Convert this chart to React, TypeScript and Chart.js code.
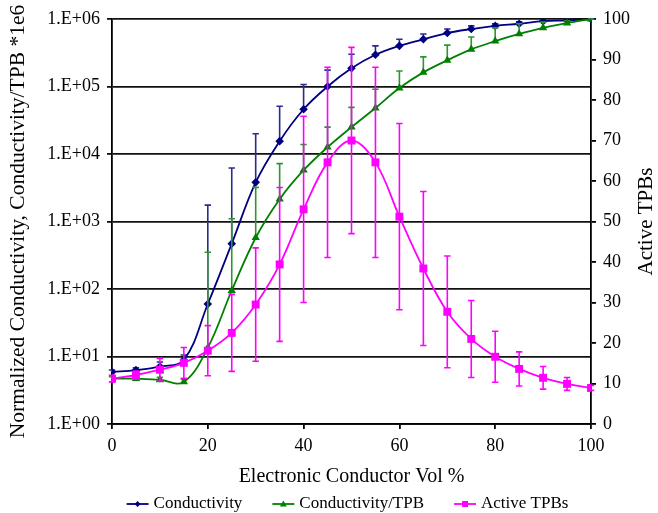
import React, { useEffect, useRef } from "react";
import { Chart, registerables } from "chart.js";

Chart.register(...registerables);

// ---------- data ----------
const volPercent = [0, 5, 10, 15, 20, 25, 30, 35, 40, 45, 50, 55, 60, 65, 70, 75, 80, 85, 90, 95, 100];

const conductivity = [5.9, 6.3, 7.1, 8.9, 60, 470, 3800, 15500, 46000, 100000, 186000, 295000, 400000, 500000, 620000, 710000, 790000, 850000, 930000, 955000, 1000000];
const conductivityUpper = [6.3, 6.8, 8.3, 10.5, 1750, 6200, 20000, 51000, 107000, 175000, 300000, 400000, 500000, 600000, 710000, 790000, 850000, 910000, 960000, 980000, 1000000];

const conductivityPerTPB = [4.7, 4.7, 4.5, 4.2, 13.5, 95, 575, 2140, 5750, 12600, 25000, 48000, 95000, 162000, 245000, 355000, 470000, 600000, 740000, 870000, 1000000];
const conductivityPerTPBUpper = [5.0, 5.0, 4.9, 4.6, 350, 1100, 3200, 7200, 13800, 25000, 49000, 91000, 170000, 275000, 410000, 540000, 740000, 850000, 900000, 940000, 1000000];

const activeTPBs = [11.2, 12.1, 13.4, 15.1, 18.1, 22.5, 29.5, 39.4, 53, 64.6, 70, 64.6, 51.2, 38.4, 27.7, 21.0, 16.6, 13.6, 11.4, 9.9, 8.9];
const activeTPBsError = [0.8, 1.0, 2.8, 3.8, 6.2, 9.5, 14, 19, 23, 23.5, 23, 23.5, 23, 19, 13.8, 9.5, 6.3, 4.2, 2.8, 1.6, 0.6];

const yTickValues = [1, 10, 100, 1000, 10000, 100000, 1000000];
const yTickLabels = ["1.E+00", "1.E+01", "1.E+02", "1.E+03", "1.E+04", "1.E+05", "1.E+06"];

const seriesNames = ["Conductivity", "Conductivity/TPB", "Active TPBs"];
const leftTitle = "Normalized Conductivity, Conductivity/TPB *1e6";
const rightTitle = "Active TPBs";
const xTitle = "Electronic Conductor Vol %";

// ---------- styles ----------
const SERIF = "'Liberation Serif', 'Times New Roman', serif";
const BLUE = "#000080";
const BLUE_ERR = "#2a2a90";
const GREEN = "#008000";
const GREEN_ERR = "#2f952f";
const PINK = "#FF00FF";

function drawMarker(ctx: CanvasRenderingContext2D, style: string, x: number, y: number, color: string) {
  ctx.save();
  ctx.fillStyle = color;
  ctx.beginPath();
  if (style === "rectRot") {
    const r = 3;
    ctx.moveTo(x, y - r);
    ctx.lineTo(x + r, y);
    ctx.lineTo(x, y + r);
    ctx.lineTo(x - r, y);
  } else if (style === "triangle") {
    const r = 3.5;
    ctx.moveTo(x, y - r);
    ctx.lineTo(x + r, y + r * 0.7);
    ctx.lineTo(x - r, y + r * 0.7);
  } else {
    const s = 3;
    ctx.rect(x - s, y - s, 2 * s, 2 * s);
  }
  ctx.closePath();
  ctx.fill();
  ctx.restore();
}

const errorBarPlugin = {
  id: "errorBars",
  beforeDatasetDraw(chart: any, args: any) {
    const ds = chart.data.datasets[args.index];
    const eb = ds.errorBars;
    if (!eb) return;
    const ctx = chart.ctx;
    const yScale = chart.scales[ds.yAxisID];
    ctx.save();
    ctx.strokeStyle = eb.color;
    ctx.lineWidth = 1.6;
    const cap = 3.2;
    args.meta.data.forEach((pt: any, i: number) => {
      const x = pt.x;
      const yTop = yScale.getPixelForValue(eb.upper[i]);
      const yBot = eb.lower ? yScale.getPixelForValue(eb.lower[i]) : pt.y;
      ctx.beginPath();
      ctx.moveTo(x, yTop);
      ctx.lineTo(x, yBot);
      ctx.moveTo(x - cap, yTop);
      ctx.lineTo(x + cap, yTop);
      if (eb.lower) {
        ctx.moveTo(x - cap, yBot);
        ctx.lineTo(x + cap, yBot);
      }
      ctx.stroke();
    });
    ctx.restore();
  },
};

const extrasPlugin = {
  id: "extras",
  afterDraw(chart: any) {
    const ctx = chart.ctx;
    const area = chart.chartArea;
    ctx.save();
    // right axis title, reading bottom-to-top
    ctx.font = `21px ${SERIF}`;
    ctx.fillStyle = "#000";
    ctx.textAlign = "center";
    ctx.textBaseline = "middle";
    ctx.translate(646, (area.top + area.bottom) / 2);
    ctx.rotate(-Math.PI / 2);
    ctx.fillText(rightTitle, 0, 0);
    ctx.restore();

    // legend
    ctx.save();
    ctx.font = `17px ${SERIF}`;
    ctx.textBaseline = "middle";
    ctx.textAlign = "left";
    const lineLen = 22;
    const gapText = 5;
    const gapItem = 30;
    const widths = seriesNames.map((n) => lineLen + gapText + ctx.measureText(n).width);
    const total = widths.reduce((a, b) => a + b, 0) + gapItem * (seriesNames.length - 1);
    let x = (area.left + area.right) / 2 - 4 - total / 2;
    const y = 504;
    chart.data.datasets.forEach((ds: any, i: number) => {
      ctx.strokeStyle = ds.borderColor;
      ctx.lineWidth = 1.8;
      ctx.beginPath();
      ctx.moveTo(x, y);
      ctx.lineTo(x + lineLen, y);
      ctx.stroke();
      drawMarker(ctx, ds.pointStyle, x + lineLen / 2, y, ds.borderColor);
      ctx.fillStyle = "#000";
      ctx.fillText(seriesNames[i], x + lineLen + gapText, y);
      x += widths[i] + gapItem;
    });
    ctx.restore();
  },
};

export default function App() {
  const canvasRef = useRef<HTMLCanvasElement>(null);

  useEffect(() => {
    document.body.style.margin = "0";
    const canvas = canvasRef.current;
    if (!canvas) return;

    const pts = (vals: number[]) => volPercent.map((x, i) => ({ x, y: vals[i] }));

    const chart = new Chart(canvas, {
      type: "line",
      data: {
        datasets: [
          {
            label: seriesNames[0],
            data: pts(conductivity),
            yAxisID: "y",
            borderColor: BLUE,
            backgroundColor: BLUE,
            borderWidth: 1.8,
            pointStyle: "rectRot",
            pointRadius: 4.3,
            pointBorderWidth: 0,
            tension: 0.38,
            order: 2,
            errorBars: { color: BLUE_ERR, upper: conductivityUpper },
          } as any,
          {
            label: seriesNames[1],
            data: pts(conductivityPerTPB),
            yAxisID: "y",
            borderColor: GREEN,
            backgroundColor: GREEN,
            borderWidth: 1.8,
            pointStyle: "triangle",
            pointRadius: 4.8,
            pointBorderWidth: 0,
            tension: 0.38,
            order: 1,
            errorBars: { color: GREEN_ERR, upper: conductivityPerTPBUpper },
          } as any,
          {
            label: seriesNames[2],
            data: pts(activeTPBs),
            yAxisID: "y1",
            borderColor: PINK,
            backgroundColor: PINK,
            borderWidth: 1.8,
            pointStyle: "rect",
            pointRadius: 5.6,
            pointBorderWidth: 0,
            tension: 0.38,
            order: 0,
            errorBars: {
              color: PINK,
              upper: activeTPBs.map((v, i) => v + activeTPBsError[i]),
              lower: activeTPBs.map((v, i) => v - activeTPBsError[i]),
            },
          } as any,
        ],
      },
      options: {
        animation: false,
        responsive: true,
        maintainAspectRatio: false,
        layout: { padding: { top: 19, bottom: 23, left: 0, right: 0 } },
        plugins: {
          legend: { display: false },
          tooltip: { enabled: false },
        },
        scales: {
          x: {
            type: "linear",
            min: 0,
            max: 100,
            ticks: {
              stepSize: 20,
              font: { family: SERIF, size: 18 },
              color: "#000",
              padding: 6,
              maxRotation: 0,
            },
            grid: { drawOnChartArea: false, tickLength: 5, color: "#000", lineWidth: 1.8 },
            border: { color: "#000", width: 1.8 },
            title: {
              display: true,
              text: xTitle,
              font: { family: SERIF, size: 20 },
              color: "#000",
              padding: { top: 0, bottom: 1 },
            },
            afterFit: (s: any) => {
              s.height = 66;
            },
          },
          y: {
            type: "logarithmic",
            position: "left",
            min: 1,
            max: 1000000,
            afterBuildTicks: (s: any) => {
              s.ticks = yTickValues.map((v) => ({ value: v }));
            },
            ticks: {
              callback: (v: any) => yTickLabels[yTickValues.indexOf(Number(v))],
              font: { family: SERIF, size: 18 },
              color: "#000",
              padding: 7,
              autoSkip: false,
            },
            grid: { color: "#111", lineWidth: 1.8, tickLength: 5 },
            border: { color: "#000", width: 1.8 },
            title: {
              display: true,
              text: leftTitle,
              font: { family: SERIF, size: 21.5 },
              color: "#000",
              padding: { top: 5, bottom: 0 },
            },
            afterFit: (s: any) => {
              s.width = 112;
            },
          },
          y1: {
            type: "linear",
            position: "right",
            min: 0,
            max: 100,
            ticks: {
              stepSize: 10,
              font: { family: SERIF, size: 18 },
              color: "#000",
              padding: 7,
            },
            grid: { drawOnChartArea: false, tickLength: 5, color: "#000", lineWidth: 1.8 },
            border: { color: "#000", width: 1.8 },
            afterFit: (s: any) => {
              s.width = 67;
            },
          },
        },
      } as any,
      plugins: [errorBarPlugin, extrasPlugin],
    });

    return () => chart.destroy();
  }, []);

  return (
    <div style={{ width: 658, height: 513, position: "relative" }}>
      <canvas ref={canvasRef} />
    </div>
  );
}
